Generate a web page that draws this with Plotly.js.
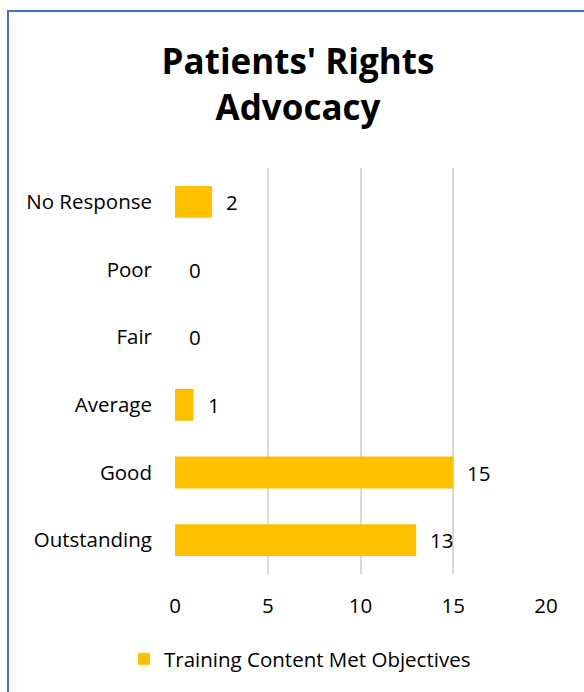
<!DOCTYPE html>
<html><head><meta charset="utf-8">
<script src="https://cdn.plot.ly/plotly-3.0.1.min.js"></script>
<style>
html,body{margin:0;padding:0;background:#fff;overflow:hidden}
#wrap{position:relative;width:584px;height:692px}
#chart{position:absolute;left:0;top:0;width:584px;height:692px}
#frame{position:absolute;left:7px;top:10px;width:600px;height:700px;border-left:2px solid #4472C4;border-top:2px solid #4472C4;box-shadow:-1px -1px 0 #8eaadb inset;pointer-events:none}
</style></head>
<body><div id="wrap"><div id="chart"></div><div id="frame"></div></div>
<script>
const categories = ["No Response", "Poor", "Fair", "Average", "Good", "Outstanding"];
const values = [2, 0, 0, 1, 15, 13];
const seriesName = "Training Content Met Objectives";
const titleText = "Patients' Rights<br>Advocacy";
const xTicks = [0, 5, 10, 15, 20];

const font = "'Open Sans', 'Noto Sans', sans-serif";
const fs = 20.5;
const annotations = categories.map((c, i) => ({
  x: values[i], y: c, xref: 'x', yref: 'y', text: String(values[i]),
  showarrow: false, xanchor: 'left', yanchor: 'middle', xshift: 12,
  font: {family: font, size: fs, color: '#000'}
}));

Plotly.newPlot('chart', [{
  type: 'bar', orientation: 'h', y: categories, x: values, name: seriesName,
  marker: {color: '#FFC000', line: {width: 0}}, showlegend: true, hoverinfo: 'none'
}], {
  width: 584, height: 692,
  margin: {l: 175, r: 38, t: 168, b: 118},
  paper_bgcolor: '#fff', plot_bgcolor: '#fff',
  font: {family: font, size: fs, color: '#000'},
  title: {text: titleText, font: {family: font, size: 35, color: '#000', weight: 'bold'},
          xref: 'container', x: 298/584, xanchor: 'center', yref: 'container', y: 1 - 74/692, yanchor: 'middle'},
  bargap: 0.53,
  xaxis: {range: [0, 20], tickvals: xTicks, showgrid: true, gridcolor: '#d9d9d9', gridwidth: 2,
          zeroline: false, showline: false, ticks: '', ticklabelstandoff: 17, tickfont: {size: fs}, fixedrange: true},
  yaxis: {type: 'category', categoryorder: 'array', categoryarray: categories, autorange: 'reversed',
          showgrid: false, zeroline: false, showline: false, ticks: '', ticklabelstandoff: 22, tickfont: {size: fs}, fixedrange: true},
  legend: {orientation: 'h', xref: 'container', x: 300/584, xanchor: 'center', yref: 'container', y: 1 - 659/692, yanchor: 'middle',
           font: {size: fs}, itemwidth: 30},
  annotations: annotations
}, {displayModeBar: false, staticPlot: true});
</script></body></html>
